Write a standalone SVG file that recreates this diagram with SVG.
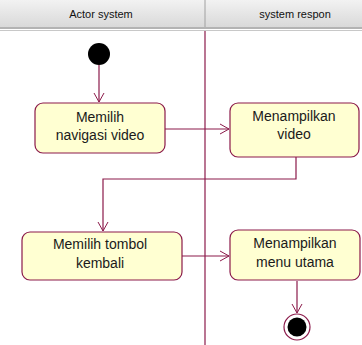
<svg xmlns="http://www.w3.org/2000/svg" width="362" height="345" viewBox="0 0 362 345">
<defs>
<linearGradient id="hg" x1="0" y1="0" x2="0" y2="1">
<stop offset="0" stop-color="#f2f2f2"/>
<stop offset="1" stop-color="#d9d9d9"/>
</linearGradient>
<marker id="arr" markerWidth="12" markerHeight="12" refX="10" refY="6" orient="auto" markerUnits="userSpaceOnUse">
<path d="M1,1 L10,6 L1,11" fill="none" stroke="#8b1a4a" stroke-width="1"/>
</marker>
</defs>
<style>
.box{fill:#ffffd2;stroke:#8b1a4a;stroke-width:1.2}
.t{font-family:"Liberation Sans",Arial,sans-serif;font-size:14px;fill:#1a1a1a;text-anchor:middle}
.h{font-family:"Liberation Sans",Arial,sans-serif;font-size:11px;fill:#111;text-anchor:middle}
.c{fill:none;stroke:#8b1a4a;stroke-width:1.2}
</style>
<rect x="0" y="0" width="362" height="345" fill="#ffffff"/>
<g id="header">
<rect x="0" y="0" width="362" height="27" fill="url(#hg)"/>
<line x1="0" y1="28" x2="362" y2="28" stroke="#9a9a9a" stroke-width="1.5"/>
<line x1="0" y1="30.5" x2="362" y2="30.5" stroke="#c8c8c8" stroke-width="1"/>
<line x1="205" y1="0" x2="205" y2="27" stroke="#a0a0a0" stroke-width="1"/>
<text class="h" x="101" y="18">Actor system</text>
<text class="h" x="295" y="18">system respon</text>
</g>
<g id="lane-divider">
<line x1="205" y1="31" x2="205" y2="345" stroke="#8b1a4a" stroke-width="1.2"/>
</g>
<g id="connectors">
<line class="c" x1="99" y1="65" x2="99" y2="102" marker-end="url(#arr)"/>
<line class="c" x1="165" y1="129" x2="229" y2="129" marker-end="url(#arr)"/>
<polyline class="c" points="296,157 296,179 103,179 103,231" marker-end="url(#arr)"/>
<line class="c" x1="182" y1="256" x2="229" y2="256" marker-end="url(#arr)"/>
<line class="c" x1="297" y1="281" x2="297" y2="313" marker-end="url(#arr)"/>
</g>
<g id="start">
<circle cx="99" cy="54" r="11" fill="#000000"/>
</g>
<g id="memilih-navigasi">
<rect class="box" x="35" y="103" width="130" height="50" rx="8"/>
<text class="t" x="100" y="122">Memilih</text>
<text class="t" x="100" y="140">navigasi video</text>
</g>
<g id="menampilkan-video">
<rect class="box" x="230" y="103" width="129" height="54" rx="8"/>
<text class="t" x="294" y="121">Menampilkan</text>
<text class="t" x="294" y="139">video</text>
</g>
<g id="memilih-tombol">
<rect class="box" x="22" y="232" width="160" height="48" rx="8"/>
<text class="t" x="100" y="249">Memilih tombol</text>
<text class="t" x="100" y="268">kembali</text>
</g>
<g id="menampilkan-menu">
<rect class="box" x="230" y="230" width="130" height="50" rx="8"/>
<text class="t" x="295" y="248">Menampilkan</text>
<text class="t" x="295" y="267">menu utama</text>
</g>
<g id="end">
<circle cx="297" cy="327" r="13" fill="#ffffff" stroke="#8b1a4a" stroke-width="1.2"/>
<circle cx="297" cy="327" r="9.5" fill="#000000"/>
</g>
</svg>
